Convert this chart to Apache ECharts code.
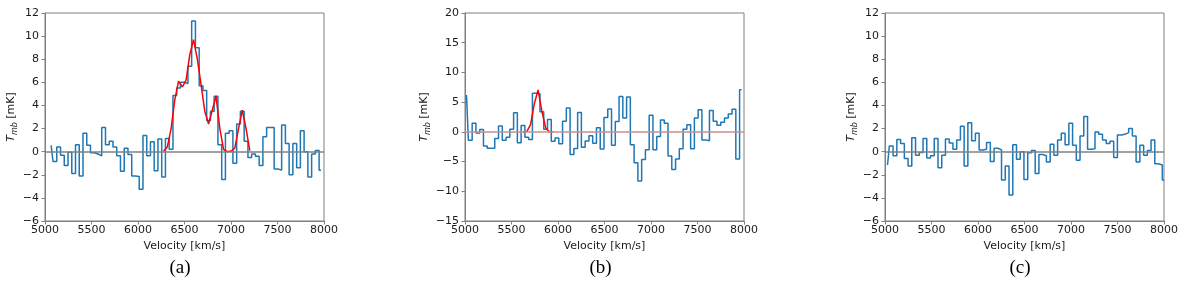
<!DOCTYPE html>
<html>
<head>
<meta charset="utf-8">
<script src="https://cdn.jsdelivr.net/npm/echarts@6/dist/echarts.min.js"></script>
<style>
html,body{margin:0;padding:0;background:#fff;}
#c{width:1200px;height:285px;}
</style>
</head>
<body>
<div id="c"></div>
<script>
// ---------- data ----------
const xTicks = [5000, 5500, 6000, 6500, 7000, 7500, 8000];
const panelLabels = ['(a)', '(b)', '(c)'];

// panel (a)
const velA = [5066,5106,5147,5187,5227,5268,5308,5348,5388,5429,5469,5509,5550,5590,5630,5671,5711,5751,5791,5832,5872,5912,5953,5993,6033,6074,6114,6154,6194,6235,6275,6315,6356,6396,6436,6477,6517,6557,6597,6638,6678,6718,6759,6799,6839,6880,6920,6960,7000,7041,7081,7121,7162,7202,7242,7283,7323,7363,7403,7444,7484,7524,7565,7605,7645,7686,7726,7766,7806,7847,7887,7927,7968];
const tmbA = [0.55,-0.85,0.4,-0.3,-1.2,-0.05,-1.9,0.6,-2.1,1.6,0.55,-0.1,-0.2,-0.35,2.1,0.6,0.9,0.4,-0.35,-1.7,0.3,-0.25,-2.1,-2.15,-3.25,1.4,-0.35,0.85,-1.65,1.1,-2.2,1.15,0.2,4.85,5.5,6.0,5.9,7.4,11.3,9.0,5.7,5.3,2.7,3.5,4.8,0.6,-2.4,1.6,1.8,-1.0,2.4,3.5,0.9,-0.5,-0.2,-0.4,-1.2,1.3,2.1,2.1,-1.5,-1.6,2.3,0.7,-2.0,0.7,-1.4,1.8,0.0,-2.2,-0.2,0.1,-1.6];
const fitVelA = [6275,6315,6356,6396,6436,6477,6517,6557,6597,6638,6678,6718,6759,6799,6839,6880,6920,6960,7000,7041,7081,7121,7162,7202];
const fitA = [0.05,0.4,2.0,4.5,6.1,5.6,6.2,8.4,9.7,8.0,5.8,3.5,2.4,3.6,4.8,2.0,0.2,0.0,0.05,0.3,2.0,3.6,2.0,0.1];

// panel (b)
const velB = [5016,5057,5097,5138,5178,5219,5259,5300,5340,5381,5421,5462,5502,5543,5583,5624,5664,5705,5745,5786,5826,5867,5907,5948,5988,6029,6069,6110,6150,6191,6231,6272,6312,6353,6393,6434,6474,6515,6555,6596,6636,6677,6717,6758,6798,6839,6879,6920,6960,7001,7041,7082,7122,7163,7203,7244,7284,7325,7365,7406,7446,7487,7527,7568,7608,7649,7689,7730,7770,7811,7851,7892,7932,7973];
const tmbB = [6.2,-1.4,1.45,-0.2,0.4,-2.4,-2.75,-2.75,-1.1,1.0,-1.4,-0.9,0.45,3.2,-1.85,1.05,-0.9,-1.3,6.5,6.4,3.4,0.45,2.1,-1.6,-1.05,-2.0,1.8,4.0,-3.8,-2.8,3.25,-2.6,-1.55,-0.65,-1.9,0.7,-2.9,2.4,3.85,-2.25,1.75,5.95,2.35,5.85,-2.15,-5.2,-8.25,-4.65,-3.0,2.8,-3.0,-0.8,2.0,1.45,-4.05,-6.35,-4.55,-2.85,0.45,1.2,-2.85,2.35,3.7,-1.35,-1.5,3.6,1.8,1.1,1.6,2.35,3.0,3.8,-4.55,7.1];
const fitVelB = [5624,5664,5705,5745,5786,5826,5867,5907,5948];
const fitB = [0,0.05,1.2,4.7,7.05,3.5,0.7,0.02,0];

// panel (c)
const velC = [5027,5067,5107,5148,5188,5228,5268,5308,5349,5389,5429,5469,5509,5550,5590,5630,5670,5710,5751,5791,5831,5871,5911,5952,5992,6032,6072,6112,6153,6193,6233,6273,6313,6354,6394,6434,6474,6514,6555,6595,6635,6675,6715,6756,6796,6836,6876,6916,6957,6997,7037,7077,7117,7158,7198,7238,7278,7318,7359,7399,7439,7479,7519,7560,7600,7640,7680,7720,7761,7801,7841,7881,7921,7962,8002];
const tmbC = [-1.15,0.5,-0.35,1.05,0.7,-0.6,-1.25,1.2,-0.3,-0.07,1.15,-0.55,-0.35,1.15,-1.4,-0.3,1.1,0.75,0.2,1.0,2.2,-1.25,2.5,0.95,1.6,0.15,0.2,0.8,-0.85,0.3,0.15,-2.45,-1.25,-3.75,0.6,-0.65,0.0,-2.4,-0.1,0.1,-1.9,-0.25,-0.35,-0.9,0.65,-0.3,1.0,1.6,0.6,2.45,0.55,-0.75,1.35,3.05,0.2,0.25,1.7,1.5,1.0,0.7,0.9,-0.5,1.45,1.5,1.65,2.0,1.35,-0.9,0.55,-0.3,0.1,1.0,-1.05,-1.15,-2.45];

const yRanges = [[-6, 12, 2], [-15, 20, 5], [-6, 12, 2]];

// ---------- layout/style ----------
const lefts = [45, 465, 885];
const W = 279, H = 208, TOP = 13;
const SPINE = '#808080';
const TXT = '#1a1a1a';
const BLUE = '#1f77b4';
const FONT = 'DejaVu Sans';

const zip = (xs, ys) => xs.map((x, i) => [x, ys[i]]);
const minus = v => String(v).replace('-', '\u2212');
const plain = v => String(v);

const grids = [], xAxes = [], yAxes = [], series = [], graphics = [];
const stepSets = [zip(velA, tmbA), zip(velB, tmbB), zip(velC, tmbC)];
const fitSets = [zip(fitVelA, fitA), zip(fitVelB, fitB), null];

for (let p = 0; p < 3; p++) {
  grids.push({left: lefts[p], top: TOP, width: W, height: H, show: true,
    borderColor: SPINE, borderWidth: 1, backgroundColor: 'transparent', containLabel: false});
  xAxes.push({type: 'value', gridIndex: p, min: xTicks[0], max: xTicks[xTicks.length - 1], interval: 500,
    axisLine: {show: true, onZero: false, lineStyle: {color: SPINE, width: 1}},
    axisTick: {show: true, inside: false, length: 3.5, lineStyle: {color: SPINE, width: 1}},
    axisLabel: {show: true, fontSize: 11, fontFamily: FONT, color: TXT, margin: 4, formatter: plain},
    splitLine: {show: false},
    name: 'Velocity [km/s]', nameLocation: 'middle', nameGap: 17,
    nameTextStyle: {fontSize: 11, fontFamily: FONT, color: TXT}});
  const r = yRanges[p];
  yAxes.push({type: 'value', gridIndex: p, min: r[0], max: r[1], interval: r[2],
    axisLine: {show: true, lineStyle: {color: SPINE, width: 1}},
    axisTick: {show: true, inside: false, length: 3.5, lineStyle: {color: SPINE, width: 1}},
    axisLabel: {show: true, fontSize: 11, fontFamily: FONT, color: TXT, margin: 6, formatter: minus},
    splitLine: {show: false},
    name: '{i|T}{s|mb} [mK]', nameLocation: 'middle', nameGap: p === 1 ? 25 : 23, nameRotate: 90,
    nameTextStyle: {fontSize: 11, fontFamily: FONT, color: TXT,
      rich: {
        i: {fontSize: 11, fontFamily: FONT, fontStyle: 'italic', color: TXT, lineHeight: 16, verticalAlign: 'middle'},
        s: {fontSize: 8, fontFamily: FONT, fontStyle: 'italic', color: TXT, lineHeight: 8, verticalAlign: 'bottom'}
      }}});
  series.push({type: 'line', xAxisIndex: p, yAxisIndex: p, data: stepSets[p], step: 'middle',
    showSymbol: false, symbol: 'none', clip: true, animation: false, z: 2,
    lineStyle: {color: BLUE, width: 1.5},
    markLine: {silent: true, symbol: 'none', animation: false,
      label: {show: false},
      lineStyle: {color: p === 1 ? '#c98f8f' : '#808080', width: 1.5, type: 'solid'},
      data: [{yAxis: 0}]}});
  if (fitSets[p]) {
    series.push({type: 'line', xAxisIndex: p, yAxisIndex: p, data: fitSets[p],
      showSymbol: false, symbol: 'none', clip: true, animation: false, z: 4,
      lineStyle: {color: '#ff0000', width: 1.5}});
  }
  graphics.push({type: 'text', left: lefts[p] + W / 2 - 15, top: 259,
    style: {text: panelLabels[p], font: '19px "Liberation Serif"', fill: '#000'}});
}

const chart = echarts.init(document.getElementById('c'), null, {renderer: 'canvas'});
chart.setOption({animation: false, grid: grids, xAxis: xAxes, yAxis: yAxes, series: series, graphic: graphics});
</script>
</body>
</html>
